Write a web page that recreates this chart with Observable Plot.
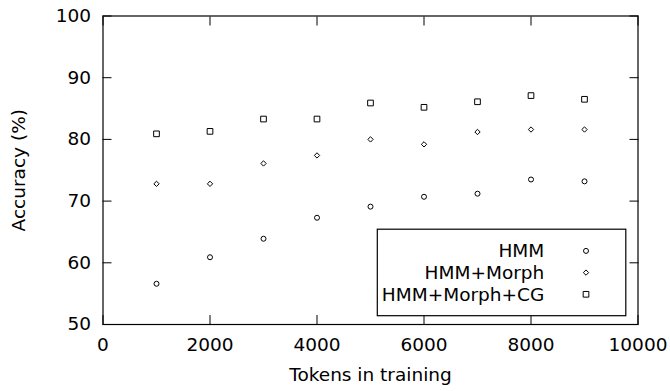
<!DOCTYPE html>
<html><head><meta charset="utf-8">
<script src="https://cdn.jsdelivr.net/npm/d3@7"></script>
<script src="https://cdn.jsdelivr.net/npm/@observablehq/plot@0.6"></script>
<style>
body{margin:0;background:#fff;}
#chart svg{display:block;}
</style></head><body><div id="chart"></div>
<script>
const tokens = [1000, 2000, 3000, 4000, 5000, 6000, 7000, 8000, 9000];
const hmm = [56.6, 60.9, 63.9, 67.3, 69.1, 70.7, 71.2, 73.5, 73.2];
const hmmMorph = [72.8, 72.8, 76.1, 77.4, 80.0, 79.2, 81.2, 81.6, 81.6];
const hmmMorphCG = [80.9, 81.3, 83.3, 83.3, 85.9, 85.2, 86.1, 87.1, 86.5];
const seriesNames = ["HMM", "HMM+Morph", "HMM+Morph+CG"];
const xTicks = [0, 2000, 4000, 6000, 8000, 10000];
const yTicks = [50, 60, 70, 80, 90, 100];

const symbols = ["circle", "diamond2", "square"];
const radii = [2.5, 2.4, 3.2];
const rows = tokens.map((t, i) => ({t, hmm: hmm[i], morph: hmmMorph[i], cg: hmmMorphCG[i]}));

const FONT = "DejaVu Sans";
const FS = 18.5;

const plot = Plot.plot({
  width: 670,
  height: 391,
  marginLeft: 102.5,
  marginRight: 32.5,
  marginTop: 15.5,
  marginBottom: 67,
  style: {fontFamily: FONT, fontSize: FS + "px", color: "#000", background: "#fff"},
  x: {domain: [0, 10000]},
  y: {domain: [50, 100]},
  marks: [
    // inward ticks on all four sides
    Plot.axisX(xTicks, {anchor: "bottom", tickSize: 9, dy: -9, fill: "none", label: null, strokeWidth: 1}),
    Plot.axisX(xTicks, {anchor: "top", tickSize: 9, dy: 9, fill: "none", label: null, strokeWidth: 1}),
    Plot.axisY(yTicks, {anchor: "left", tickSize: 9, dx: 9, fill: "none", label: null, strokeWidth: 1}),
    Plot.axisY(yTicks, {anchor: "right", tickSize: 9, dx: -9, fill: "none", label: null, strokeWidth: 1}),
    // labels
    Plot.axisX(xTicks, {anchor: "bottom", tickSize: 0, tickPadding: 13, tickFormat: d => String(d), label: "Tokens in training", labelAnchor: "center", labelArrow: "none", labelOffset: 56, fontSize: FS}),
    Plot.axisY(yTicks, {anchor: "left", tickSize: 0, tickPadding: 12, tickFormat: d => String(d), label: "Accuracy (%)", labelAnchor: "center", labelArrow: "none", labelOffset: 91, fontSize: FS}),
    Plot.frame({stroke: "#000", strokeWidth: 1.2}),
    Plot.dot(rows, {x: "t", y: "hmm", symbol: symbols[0], r: radii[0], stroke: "#000", strokeWidth: 1, fill: "none"}),
    Plot.dot(rows, {x: "t", y: "morph", symbol: symbols[1], r: radii[1], stroke: "#000", strokeWidth: 1, fill: "none"}),
    Plot.dot(rows, {x: "t", y: "cg", symbol: symbols[2], r: radii[2], stroke: "#000", strokeWidth: 1, fill: "none"})
  ]
});
document.getElementById("chart").appendChild(plot);

// legend box inside the frame, bottom-right (gnuplot style)
const sx = plot.scale("x"), sy = plot.scale("y");
const right = sx.range[1], bottom = sy.range[0];
const svg = d3.select(plot);
const g = svg.append("g").attr("font-family", FONT).attr("font-size", FS);
const boxW = 248.5, boxH = 86.5;
const bx = right - 11.7 - boxW, by = bottom - 8.3 - boxH;
g.append("rect").attr("x", bx).attr("y", by).attr("width", boxW).attr("height", boxH)
  .attr("fill", "#fff").attr("stroke", "#000").attr("stroke-width", 1.2);
const d3sym = {circle: d3.symbolCircle, diamond2: d3.symbolDiamond2, square: d3.symbolSquare};
seriesNames.forEach((name, i) => {
  const cy = by + 21.7 + i * 21.7;
  g.append("text").attr("x", bx + 167).attr("y", cy).attr("dy", "0.35em")
    .attr("text-anchor", "end").attr("fill", "#000").text(name);
  g.append("path").attr("transform", `translate(${bx + 208.7},${cy})`)
    .attr("d", d3.symbol().type(d3sym[symbols[i]]).size(Math.PI * radii[i] * radii[i])())
    .attr("fill", "none").attr("stroke", "#000").attr("stroke-width", 1);
});
</script></body></html>
